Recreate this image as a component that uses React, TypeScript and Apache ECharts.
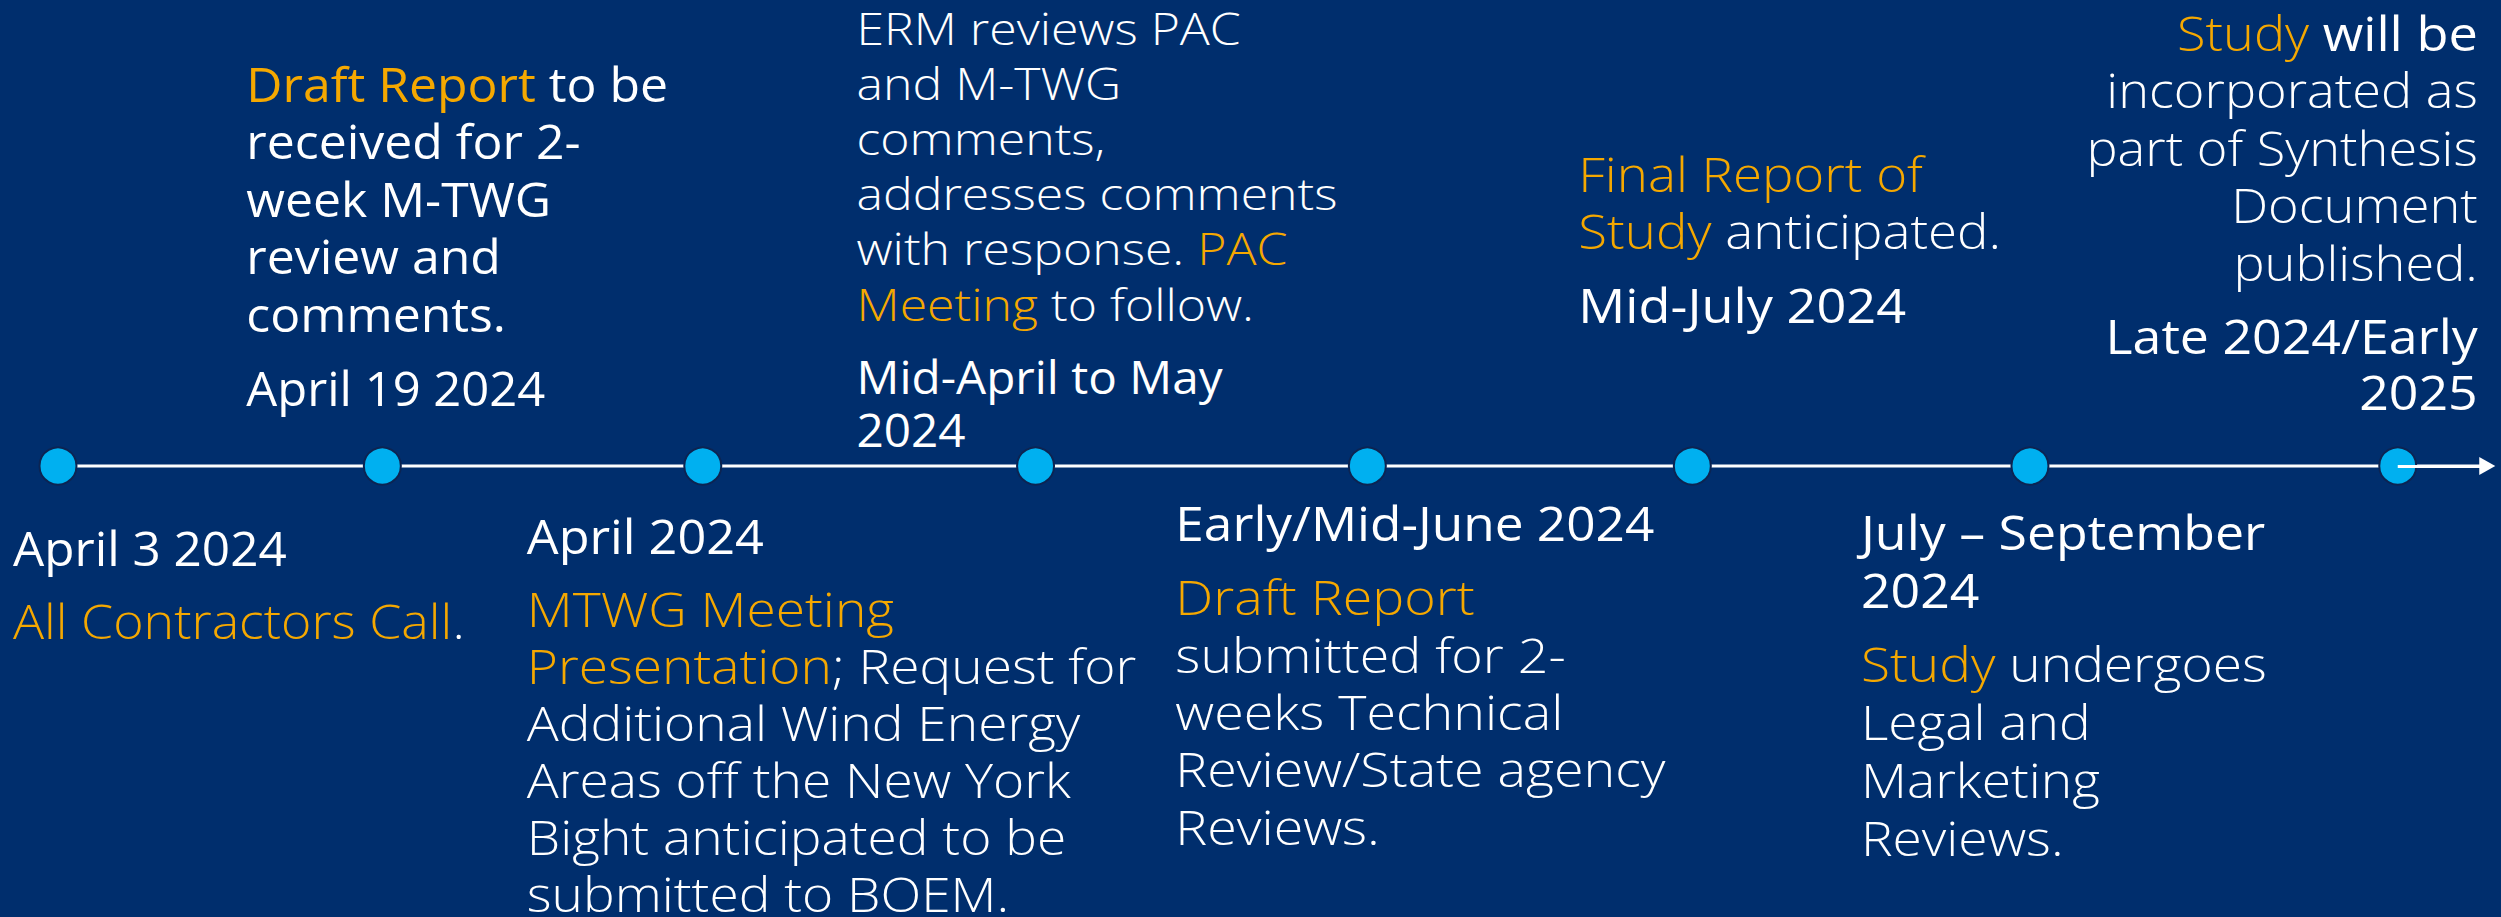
import { useEffect, useRef } from "react";
import * as echarts from "echarts";

// Milestone positions along the timeline (unit ≈ one step between milestones)
const milestonePositions = [0, 1.0, 1.988, 3.014, 4.037, 5.039, 6.08, 7.214];
const timelineEnd = 7.49;
const milestoneSides = ["below", "above", "below", "above", "below", "above", "below", "above"];
const milestoneDates = [
  ["April 3 2024"],
  ["April 19 2024"],
  ["April 2024"],
  ["Mid-April to May", "2024"],
  ["Early/Mid-June 2024"],
  ["Mid-July 2024"],
  ["July – September", "2024"],
  ["Late 2024/Early", "2025"],
];
const milestoneNotes = [
  ["{o|All Contractors Call}."],
  ["{o|Draft Report} to be", "received for 2-", "week M-TWG", "review and", "comments."],
  [
    "{o|MTWG Meeting}",
    "{o|Presentation}; Request for",
    "Additional Wind Energy",
    "Areas off the New York",
    "Bight anticipated to be",
    "submitted to BOEM.",
  ],
  ["ERM reviews PAC", "and M-TWG", "comments,", "addresses comments", "with response. {o|PAC}", "{o|Meeting} to follow."],
  ["{o|Draft Report}", "submitted for 2-", "weeks Technical", "Review/State agency", "Reviews."],
  ["{o|Final Report of}", "{o|Study} anticipated."],
  ["{o|Study} undergoes", "Legal and", "Marketing", "Reviews."],
  ["{o|Study} {b|will be}", "incorporated as", "part of Synthesis", "Document", "published."],
];

// Layout (style / position only)
const blockDx = [-45, -136, -176, -179, -192, -114, -169, 80];
const blockAlign = ["left", "left", "left", "left", "left", "left", "left", "right"];
const blockTopY = [547, 83, 535, 27, 523, 173, 532, 32];
const blockLineH = [57.5, 57.5, 57, 55.2, 57.3, 57, 57.7, 57.5];
const blockDateLineH = [57, 57, 57, 53, 57, 57, 58, 56];
const blockFont = [48, 48, 48, 45, 48, 48, 48, 48];
const blockNoteWeight = [300, 400, 300, 300, 300, 300, 300, 300];
const blockNoteStretch = [1.08, 1.04, 1.11, 1.11, 1.12, 1.1, 1.11, 1.09];
const blockDateStretch = [1.03, 1.02, 1.05, 1.06, 1.07, 1.09, 1.08, 1.08];
const groupGap = 74;

const BG = "#002E6D";
const ORANGE = "#F5A800";
const DOT = "#00B0F0";
const FONT = "'Open Sans', 'Noto Sans', sans-serif";

export default function App() {
  const ref = useRef<HTMLDivElement>(null);

  useEffect(() => {
    if (!ref.current) return;
    const chart = echarts.init(ref.current, null, { renderer: "svg" });
    chart.setOption({
      animation: false,
      backgroundColor: BG,
      grid: { left: 58, right: 4, top: 15, bottom: 0 },
      xAxis: { type: "value", min: 0, max: 7.52, show: false },
      yAxis: { type: "value", min: -1, max: 1, show: false },
      series: [
        {
          type: "line",
          silent: true,
          z: 1,
          symbol: "none",
          data: [
            [0, 0],
            [timelineEnd, 0],
          ],
          lineStyle: { color: "#ffffff", width: 3 },
          markLine: {
            silent: true,
            animation: false,
            symbol: ["none", "triangle"],
            symbolSize: [18, 16],
            label: { show: false },
            lineStyle: { color: "#ffffff", width: 3, type: "solid" },
            data: [[{ coord: [milestonePositions[milestonePositions.length - 1], 0] }, { coord: [timelineEnd, 0] }]],
          },
        },
        {
          type: "scatter",
          silent: true,
          z: 3,
          symbol: "circle",
          symbolSize: 37,
          data: milestonePositions.map((p) => [p, 0]),
          itemStyle: { color: DOT, borderColor: "#0C2452", borderWidth: 2, opacity: 1 },
        },
      ],
    });

    const elements: any[] = [];
    milestonePositions.forEach((pos, i) => {
      const pt = chart.convertToPixel({ gridIndex: 0 }, [pos, 0]) as number[];
      const cx = pt[0] + blockDx[i];
      const fs = blockFont[i];
      const noteW = blockNoteWeight[i];
      const groups =
        milestoneSides[i] === "below"
          ? [
              { lines: milestoneDates[i], kind: "date" },
              { lines: milestoneNotes[i], kind: "note" },
            ]
          : [
              { lines: milestoneNotes[i], kind: "note" },
              { lines: milestoneDates[i], kind: "date" },
            ];
      let y = blockTopY[i];
      groups.forEach((g, gi) => {
        g.lines.forEach((t, li) => {
          const w = g.kind === "date" ? 400 : noteW;
          elements.push({
            type: "text",
            silent: true,
            x: cx,
            y,
            scaleX: g.kind === "date" ? blockDateStretch[i] : blockNoteStretch[i],
            style: {
              text: t,
              fill: "#ffffff",
              fontSize: fs,
              fontFamily: FONT,
              fontWeight: w,
              align: blockAlign[i],
              verticalAlign: "middle",
              rich: {
                o: { fill: ORANGE, fontSize: fs, fontFamily: FONT, fontWeight: w },
                b: { fill: "#ffffff", fontSize: fs, fontFamily: FONT, fontWeight: 400 },
              },
            },
          });
          if (li < g.lines.length - 1) y += g.kind === "date" ? blockDateLineH[i] : blockLineH[i];
        });
        if (gi === 0) y += groupGap;
      });
    });
    chart.setOption({ graphic: elements });

    return () => chart.dispose();
  }, []);

  return (
    <div
      ref={ref}
      style={{ position: "absolute", left: 0, top: 0, width: 2501, height: 917 }}
    />
  );
}
